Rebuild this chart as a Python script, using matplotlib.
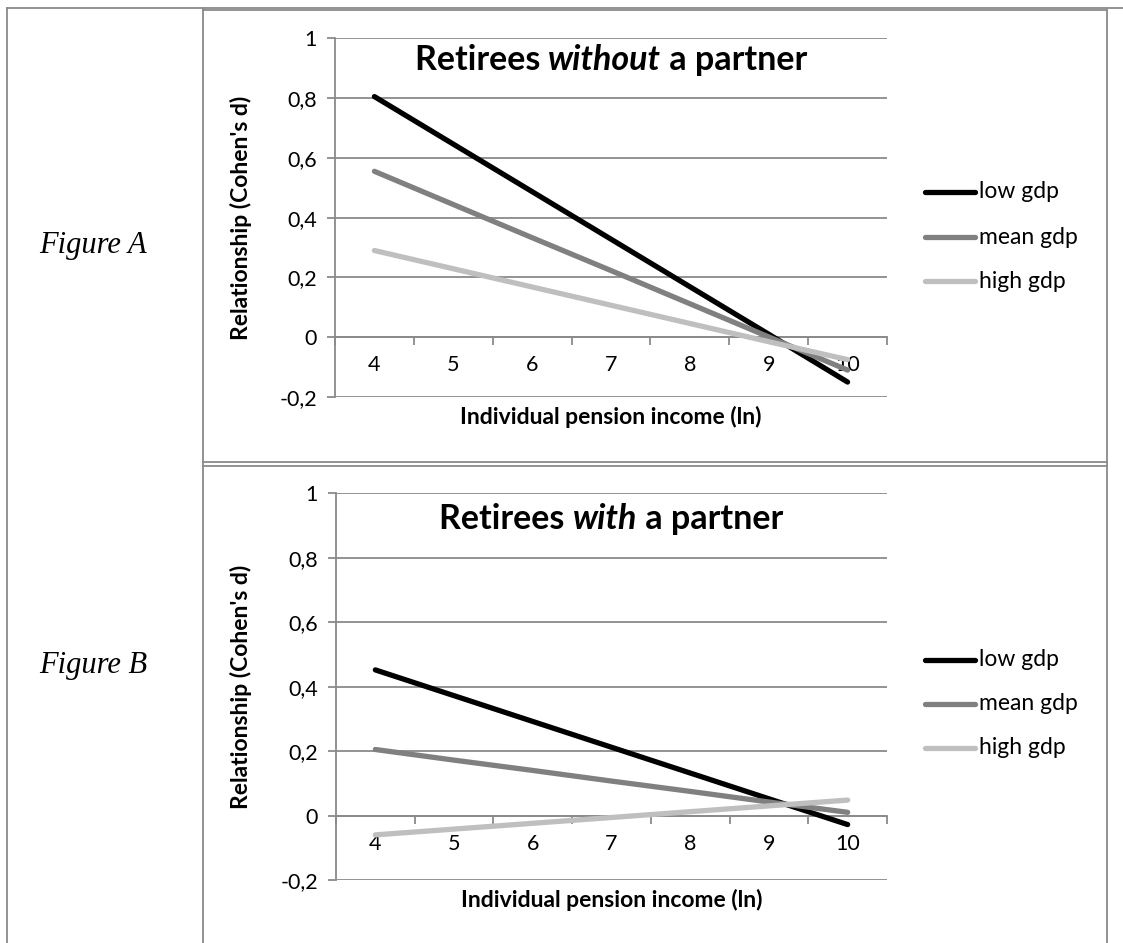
import matplotlib
matplotlib.use('Agg')
import matplotlib.pyplot as plt
from matplotlib.lines import Line2D

# data
income = ['4', '5', '6', '7', '8', '9', '10']
series_names = ['low gdp', 'mean gdp', 'high gdp']
colors = ['#000000', '#808080', '#bfbfbf']

alone_low = [0.805, 0.646, 0.487, 0.328, 0.169, 0.010, -0.150]
alone_mean = [0.555, 0.444, 0.333, 0.223, 0.112, 0.001, -0.110]
alone_high = [0.290, 0.229, 0.168, 0.107, 0.046, -0.015, -0.075]

partner_low = [0.452, 0.372, 0.292, 0.212, 0.132, 0.052, -0.028]
partner_mean = [0.205, 0.172, 0.140, 0.107, 0.075, 0.042, 0.010]
partner_high = [-0.060, -0.042, -0.024, -0.006, 0.012, 0.030, 0.048]

yticks = [-0.2, 0, 0.2, 0.4, 0.6, 0.8, 1]
ytick_labels = ['-0,2', '0', '0,2', '0,4', '0,6', '0,8', '1']

W, H = 1123, 943
plt.rcParams['font.family'] = ['Lato', 'DejaVu Sans']
fig = plt.figure(figsize=(W / 100, H / 100), dpi=100)
grey = '#8a8a8a'


def fx(x):
    return x / W


def fy(y):
    return 1 - y / H


def hline(y, x0, x1, lw=1.3):
    fig.add_artist(Line2D([fx(x0), fx(x1)], [fy(y), fy(y)], color=grey, lw=lw))


def vline(x, y0, y1, lw=1.3):
    fig.add_artist(Line2D([fx(x), fx(x)], [fy(y0), fy(y1)], color=grey, lw=lw))


# table borders
hline(8, 7, 1123)
vline(7, 8, 943)
vline(203, 8, 943)
hline(10, 203, 1107)
hline(462, 203, 1107)
hline(466, 203, 1107)
vline(1107, 10, 943)


def panel(top, bottom, left, data):
    ax = fig.add_axes([fx(left), fy(bottom), fx(887) - fx(left), fy(top) - fy(bottom)])
    x = range(len(income))
    for vals, c, name in zip(data, colors, series_names):
        ax.plot(x, vals, color=c, lw=3.8, solid_capstyle='round', label=name, zorder=3)
    ax.set_xlim(-0.5, len(income) - 0.5)
    ax.set_ylim(-0.2, 1.001)
    ax.set_yticks(yticks)
    ax.set_yticklabels(ytick_labels, fontsize=15.5)
    ax.yaxis.grid(True, color=grey, lw=1.3)
    ax.set_axisbelow(True)
    for s in ['top', 'right']:
        ax.spines[s].set_visible(False)
    ax.spines['left'].set_color(grey)
    ax.spines['left'].set_linewidth(1.3)
    ax.spines['bottom'].set_position(('data', 0))
    ax.spines['bottom'].set_color(grey)
    ax.spines['bottom'].set_linewidth(1.3)
    ax.set_xticks(list(x))
    ax.set_xticklabels(income, fontsize=15.5)
    ax.set_xticks([i + 0.5 for i in range(-1, len(income))], minor=True)
    ax.tick_params(axis='x', which='major', length=0, pad=13)
    ax.tick_params(axis='x', which='minor', length=6, color=grey, width=1.3, direction='out')
    ax.tick_params(axis='y', length=6, color=grey, width=1.3, pad=7)
    ax.set_ylabel("Relationship (Cohen's d)", fontsize=16.5, fontweight='bold')
    ax.yaxis.set_label_coords((252 - left) / (887 - left), 0.5)
    ax.set_xlabel('Individual pension income (ln)', fontsize=16.5, fontweight='bold')
    ax.xaxis.set_label_coords(0.5, -9 / (bottom - top))
    return ax


axA = panel(38, 397, 335, [alone_low, alone_mean, alone_high])
axB = panel(493, 880, 336, [partner_low, partner_mean, partner_high])


def title(y, word):
    # three pieces so the middle word is italic
    parts = [('Retirees ', 'normal'), (word, 'italic'), (' a partner', 'normal')]
    renderer = fig.canvas.get_renderer()
    texts = []
    for s, st in parts:
        t = fig.text(0, fy(y), s, fontsize=24.5, fontweight='bold', style=st,
                     va='center_baseline')
        texts.append(t)
    widths = [t.get_window_extent(renderer).width for t in texts]
    x0 = 611 - sum(widths) / 2
    for t, w in zip(texts, widths):
        t.set_x(fx(x0))
        x0 += w


title(57, 'without')
title(516, 'with')

for y, lbl in [(245, 'Figure A'), (666, 'Figure B')]:
    fig.text(fx(93), fy(y), lbl, fontsize=22, family='Liberation Serif', style='italic',
             ha='center', va='center')

for ys in [(192, 237, 281), (660, 704, 748)]:
    for (name, c), y in zip(zip(series_names, colors), ys):
        fig.add_artist(Line2D([fx(925), fx(975)], [fy(y), fy(y)], color=c, lw=3.8,
                              solid_capstyle='round'))
        fig.text(fx(979), fy(y), name, fontsize=16.5, va='center')

fig.savefig('out.png', dpi=100)
